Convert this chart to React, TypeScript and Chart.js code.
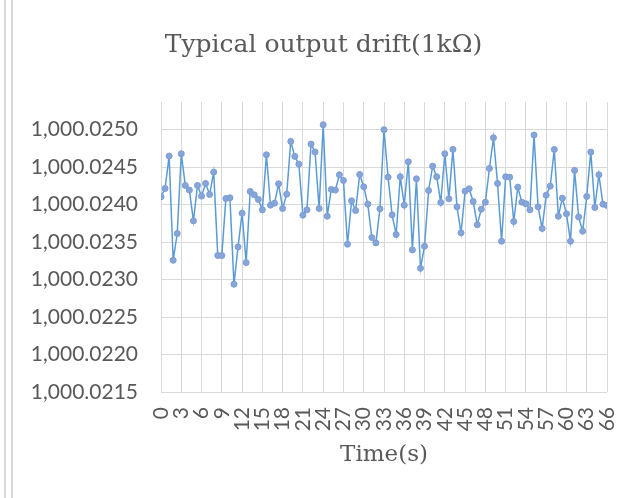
import React, { useEffect, useRef } from "react";
import { Chart, registerables } from "chart.js";

Chart.register(...registerables);

const chartTitle = "Typical output drift(1kΩ)";
const xAxisTitle = "Time(s)";

const times = [
  0, 0.6, 1.2, 1.8, 2.4, 3, 3.6, 4.2, 4.8, 5.4,
  6, 6.6, 7.2, 7.8, 8.4, 9, 9.6, 10.2, 10.8, 11.4,
  12, 12.6, 13.2, 13.8, 14.4, 15, 15.6, 16.2, 16.8, 17.4,
  18, 18.6, 19.2, 19.8, 20.4, 21, 21.6, 22.2, 22.8, 23.4,
  24, 24.6, 25.2, 25.8, 26.4, 27, 27.6, 28.2, 28.8, 29.4,
  30, 30.6, 31.2, 31.8, 32.4, 33, 33.6, 34.2, 34.8, 35.4,
  36, 36.6, 37.2, 37.8, 38.4, 39, 39.6, 40.2, 40.8, 41.4,
  42, 42.6, 43.2, 43.8, 44.4, 45, 45.6, 46.2, 46.8, 47.4,
  48, 48.6, 49.2, 49.8, 50.4, 51, 51.6, 52.2, 52.8, 53.4,
  54, 54.6, 55.2, 55.8, 56.4, 57, 57.6, 58.2, 58.8, 59.4,
  60, 60.6, 61.2, 61.8, 62.4, 63, 63.6, 64.2, 64.8, 65.4,
  66,
];

const resistance = [
  1000.024105, 1000.024216, 1000.024648, 1000.023258, 1000.023615, 1000.024679, 1000.024256, 1000.024194, 1000.023784, 1000.024256,
  1000.024114, 1000.024283, 1000.024136, 1000.024434, 1000.023321, 1000.023321, 1000.024082, 1000.024091, 1000.022938, 1000.023437,
  1000.023886, 1000.023227, 1000.024176, 1000.024131, 1000.024069, 1000.023931, 1000.024666, 1000.023993, 1000.02402, 1000.024278,
  1000.023949, 1000.02414, 1000.024844, 1000.024644, 1000.024541, 1000.02386, 1000.023931, 1000.024808, 1000.024702, 1000.023949,
  1000.025067, 1000.023846, 1000.024203, 1000.024194, 1000.024399, 1000.024323, 1000.023472, 1000.024051, 1000.023922, 1000.024403,
  1000.024238, 1000.024007, 1000.023561, 1000.02349, 1000.023944, 1000.025, 1000.024367, 1000.023864, 1000.023601, 1000.024372,
  1000.023993, 1000.024572, 1000.023396, 1000.024345, 1000.023151, 1000.023445, 1000.024189, 1000.024514, 1000.024372, 1000.024029,
  1000.024679, 1000.024078, 1000.024737, 1000.023971, 1000.023624, 1000.02418, 1000.024212, 1000.024042, 1000.023731, 1000.02394,
  1000.024033, 1000.024483, 1000.024893, 1000.024283, 1000.023512, 1000.024372, 1000.024367, 1000.023775, 1000.024234, 1000.024033,
  1000.024011, 1000.023931, 1000.024929, 1000.023971, 1000.023682, 1000.024127, 1000.024247, 1000.024737, 1000.023846, 1000.024087,
  1000.023878, 1000.023512, 1000.024457, 1000.023837, 1000.023646, 1000.024109, 1000.024702, 1000.023962, 1000.024399, 1000.024007,
  1000.023989,
];

const xTicks = [0, 3, 6, 9, 12, 15, 18, 21, 24, 27, 30, 33, 36, 39, 42, 45, 48, 51, 54, 57, 60, 63, 66];
const yTicks = [1000.0215, 1000.022, 1000.0225, 1000.023, 1000.0235, 1000.024, 1000.0245, 1000.025];
const yMin = 1000.0215;
const yMax = 1000.02537;

const tickFont = { family: "Lato", size: 21 };
const textColor = "#595959";
const gridColor = "#d9d9d9";

function formatValue(v: number): string {
  const [intPart, frac] = Number(v).toFixed(4).split(".");
  return intPart.replace(/\B(?=(\d{3})+(?!\d))/g, ",") + "." + frac;
}

const sheetLines = {
  id: "sheetLines",
  beforeDraw(chart: any) {
    const ctx = chart.ctx;
    ctx.save();
    ctx.strokeStyle = "#d9d9d9";
    ctx.lineWidth = 2;
    [5, 12].forEach((x) => {
      ctx.beginPath();
      ctx.moveTo(x, 0);
      ctx.lineTo(x, chart.height);
      ctx.stroke();
    });
    ctx.restore();
  },
};

const titleText = {
  id: "titleText",
  afterDraw(chart: any) {
    const ctx = chart.ctx;
    ctx.save();
    ctx.font = '25px "DejaVu Serif"';
    ctx.fillStyle = textColor;
    ctx.textAlign = "center";
    ctx.textBaseline = "middle";
    ctx.fillText(chartTitle, chart.width / 2 + 7, 45);
    ctx.restore();
  },
};

export default function App() {
  const ref = useRef<HTMLCanvasElement>(null);

  useEffect(() => {
    document.body.style.margin = "0";
    const chart = new Chart(ref.current as HTMLCanvasElement, {
      type: "line",
      data: {
        datasets: [
          {
            data: times.map((t, i) => ({ x: t, y: resistance[i] })),
            borderColor: "#5b9bd5",
            borderWidth: 1.5,
            pointRadius: 3,
            pointBackgroundColor: "#86a6da",
            pointBorderColor: "#7a9cd6",
            pointBorderWidth: 1,
            tension: 0,
          },
        ],
      },
      options: {
        responsive: false,
        animation: false,
        devicePixelRatio: 1,
        layout: { padding: { left: 16, right: 26, top: 102, bottom: 0 } },
        plugins: {
          legend: { display: false },
          tooltip: { enabled: false },
          title: { display: false },
        },
        scales: {
          x: {
            type: "linear",
            min: 0,
            max: 66,
            afterBuildTicks: (s: any) => {
              s.ticks = xTicks.map((v) => ({ value: v }));
            },
            afterFit: (s: any) => {
              s.height = 106;
              s.paddingLeft = 0;
              s.paddingRight = 0;
            },
            grid: { color: gridColor, drawTicks: false },
            border: { display: false },
            ticks: {
              autoSkip: false,
              minRotation: 90,
              maxRotation: 90,
              padding: 15,
              color: textColor,
              font: tickFont,
              callback: (v: any) => String(v),
            },
            title: {
              display: true,
              text: xAxisTitle,
              color: textColor,
              font: { family: "DejaVu Serif", size: 23 },
              padding: { top: 0, bottom: 29 },
            },
          },
          y: {
            type: "linear",
            min: yMin,
            max: yMax,
            afterBuildTicks: (s: any) => {
              s.ticks = yTicks.map((v) => ({ value: v }));
            },
            afterFit: (s: any) => {
              s.width = 145;
              s.paddingTop = 0;
              s.paddingBottom = 0;
            },
            grid: { color: gridColor, drawTicks: false },
            border: { display: false },
            ticks: {
              padding: 23,
              color: textColor,
              font: tickFont,
              callback: (v: any) => formatValue(v),
            },
          },
        },
      },
      plugins: [sheetLines, titleText],
    });
    return () => chart.destroy();
  }, []);

  return <canvas ref={ref} width={633} height={498} style={{ display: "block" }} />;
}
